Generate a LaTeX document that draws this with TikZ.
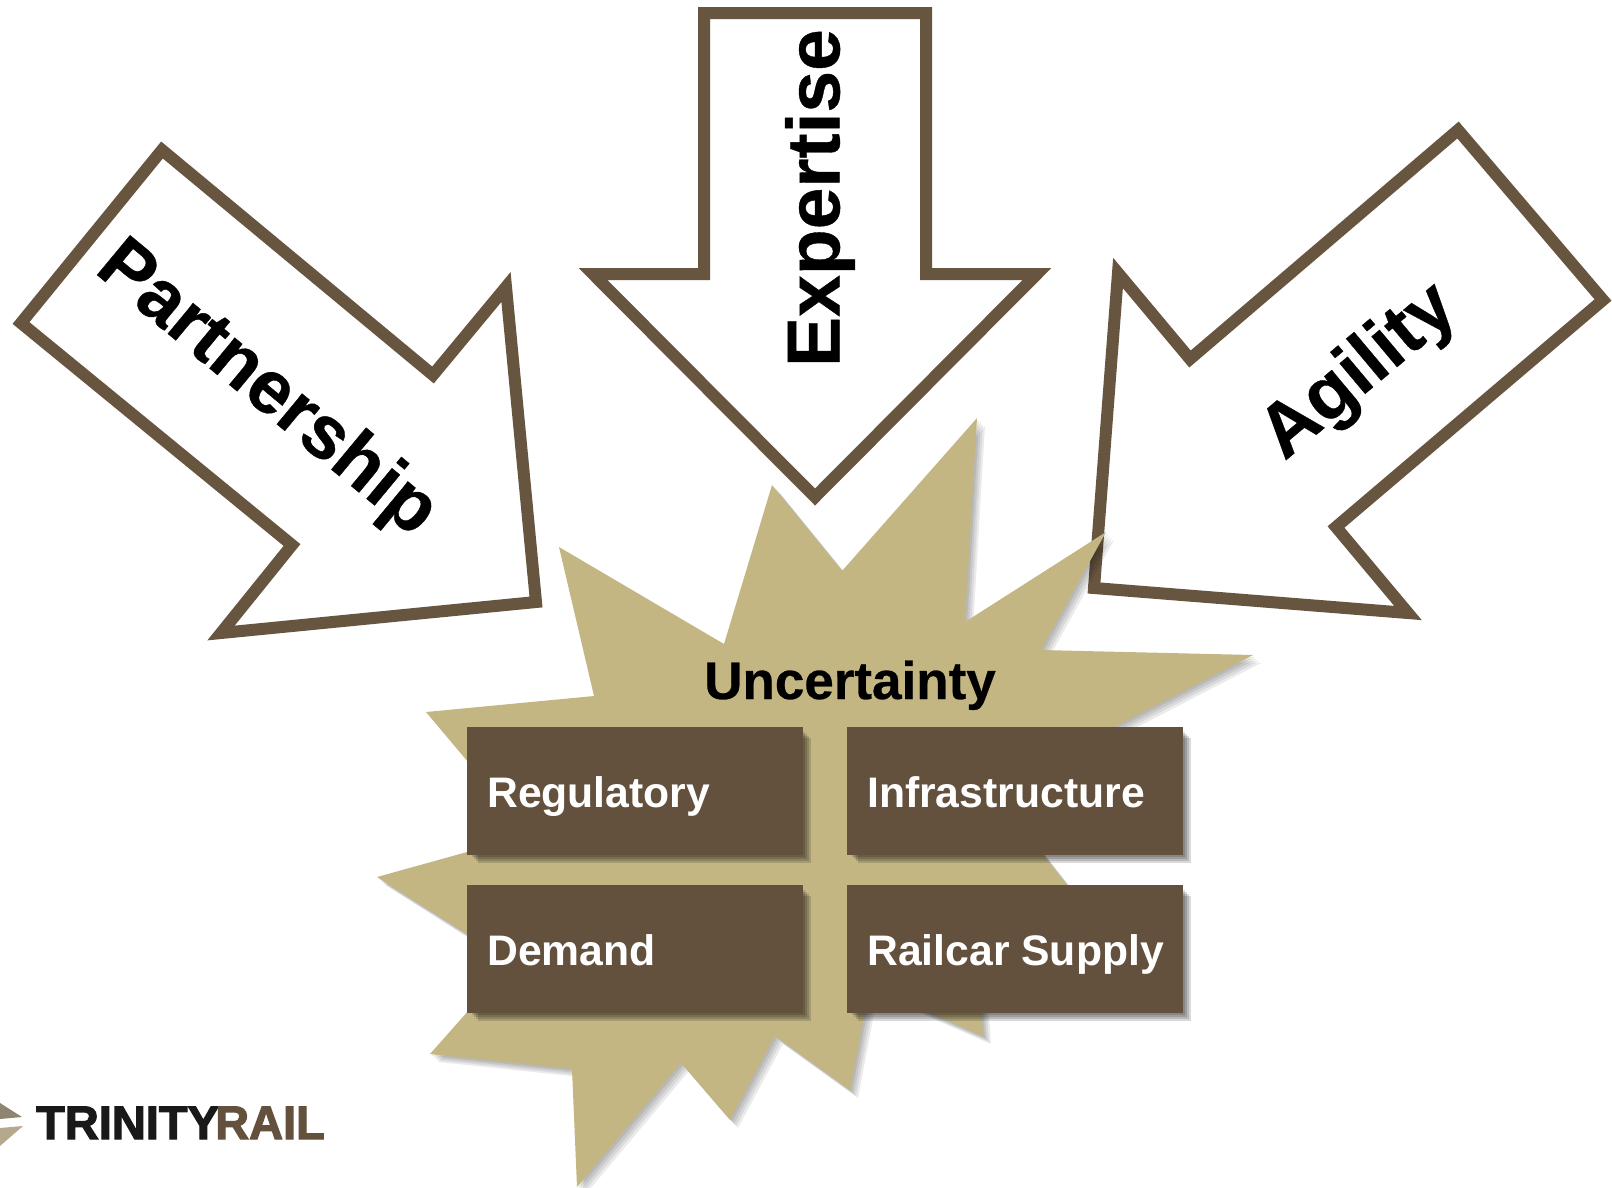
\documentclass[tikz,border=0pt]{standalone}
\usepackage{fontspec}
\setmainfont{Liberation Sans}
\newfontfamily\heavyfont{Liberation Sans}[BoldFeatures={FakeBold=0.5}]
\newfontfamily\logofont{Liberation Sans}[BoldFeatures={FakeBold=2.5}]
\definecolor{stroke}{HTML}{67553F}
\definecolor{boxfill}{HTML}{63503D}
\definecolor{burst}{HTML}{C3B683}
\definecolor{logoA}{HTML}{8F8371}
\definecolor{logoB}{HTML}{B5A88C}
\newcommand{\burstpath}{(977,418) -- (965,622) -- (1106,532) -- (1041,650) -- (1253,655) -- (1116,726) -- (1000,800) -- (1067,885) -- (1105,930) -- (980,990) -- (983,1036) -- (930,1013) -- (870,985) -- (850,1090) -- (775,1036) -- (730,1120) -- (681,1063) -- (577,1187) -- (572,1069) -- (430,1054) -- (500,975) -- (467,934) -- (377,877) -- (467,852) -- (500,800) -- (426,712) -- (594,696) -- (559,547) -- (724,644) -- (772,485) -- (842,571) -- cycle}
\tikzset{
  x=1pt,y=-1pt,
  arrowshape/.style={draw=stroke,fill=white,line width=12pt,miter limit=10},
  bigword/.style={font=\heavyfont\fontsize{75}{80}\selectfont\bfseries,text=black,inner sep=0pt},
  boxword/.style={font=\fontsize{42.7}{48}\selectfont\bfseries,text=white,inner sep=0pt,anchor=base west},
  softshadow/.style={fill=black,opacity=0.08,draw=none},
  boxshadow/.style={fill=black,opacity=0.15,draw=none},
  logoword/.style={font=\logofont\fontsize{47}{50}\selectfont\bfseries,inner sep=0pt,anchor=base west}
}
\begin{document}
\begin{tikzpicture}
\useasboundingbox (0,0) rectangle (1612,1187);
% arrows
\draw[arrowshape] (162,150) -- (433,375) -- (506,287) -- (536,602) -- (221,633) -- (292,545) -- (21,323) -- cycle;
\draw[arrowshape] (704,13) -- (926,13) -- (926,274) -- (1037,274) -- (815,497) -- (593,274) -- (704,274) -- cycle;
\draw[arrowshape] (1458,130) -- (1603,300) -- (1336,527) -- (1408,613) -- (1094,588) -- (1118,273) -- (1190,359) -- cycle;
% burst
\foreach \d in {2,4,6,8}{
  \path[softshadow,xshift=\d pt,yshift=-\d pt] \burstpath;
}
\fill[burst] \burstpath;
% boxes
\foreach \x/\y in {467/727,847/727,467/885,847/885}{
  \foreach \d in {2,4,6,8}{
    \path[boxshadow] (\x+\d+3,\y+\d+3) rectangle (\x+336+\d,\y+128+\d);
  }
  \fill[boxfill] (\x,\y) rectangle (\x+336,\y+128);
}
% words
\node[bigword,rotate=-39.7] (partnership) at (266,390) {Partnership};
\node[bigword,rotate=90] (expertise) at (820,198) {Expertise};
\node[bigword,rotate=40] (agility) at (1360,373) {Agility};
\node[font=\heavyfont\fontsize{53}{58}\selectfont\bfseries,inner sep=0pt,anchor=base] (uncertainty) at (850,699) {Uncertainty};
\node[boxword] (regulatory) at (487,807) {Regulatory};
\node[boxword] (infrastructure) at (867,807) {Infrastructure};
\node[boxword] (demand) at (487,965) {Demand};
\node[boxword] (railcar) at (867,965) {Railcar Supply};
% logo
\fill[logoA] (0,1103) -- (22,1117) -- (0,1119) -- cycle;
\fill[logoB] (0,1128) -- (23,1126) -- (0,1146) -- cycle;
\node[logoword,text=black!90] (trinity) at (36,1139) {TRINITY};
\node[logoword,text=boxfill] (rail) at (215,1139) {RAIL};
\end{tikzpicture}
\end{document}
